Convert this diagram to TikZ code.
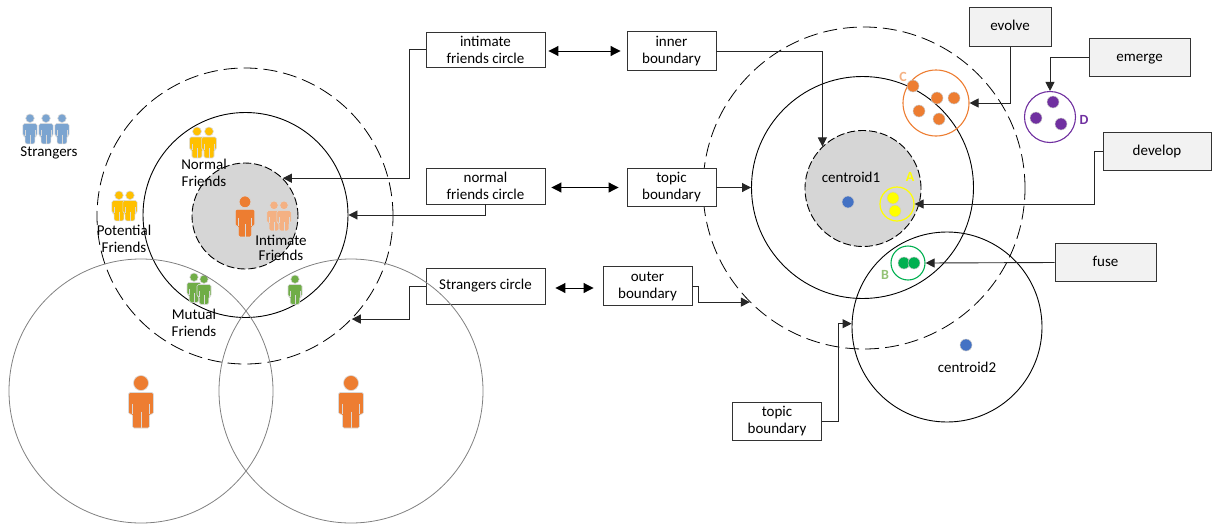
\documentclass[tikz,border=0pt]{standalone}
\usepackage{fontspec}
\setmainfont{Carlito}
\usetikzlibrary{arrows.meta}
\definecolor{strangerblue}{HTML}{7BA4D0}
\definecolor{friendyellow}{HTML}{FFC000}
\definecolor{personorange}{HTML}{ED7D31}
\definecolor{paleorange}{HTML}{F4B183}
\definecolor{mutualgreen}{HTML}{70AD47}
\definecolor{greyfill}{HTML}{D6D6D6}
\definecolor{tagfill}{HTML}{F2F2F2}
\definecolor{clusterpurple}{HTML}{7030A0}
\definecolor{clustergreen}{HTML}{00B050}
\definecolor{clusteryellow}{HTML}{FFFF00}
\definecolor{centroidblue}{HTML}{4472C4}

\tikzset{
  ring/.style={circle,draw,inner sep=0,minimum size=#1},
  longdash/.style={dash pattern=on 14 off 6},
  shortdash/.style={dash pattern=on 8 off 3},
  dot/.style={circle,fill=#1,draw=black!20,line width=.5,inner sep=0,minimum size=12},
  label/.style={align=center,font=\fontsize{15}{17}\selectfont,inner sep=0},
  mark letter/.style={font=\fontsize{14}{16}\selectfont\bfseries,text=#1,inner sep=0},
  box/.style={draw=black!80,fill=white,line width=.9,inner sep=0,align=center,font=\fontsize{15}{17}\selectfont},
  tag/.style={box,fill=tagfill,minimum width=#1,minimum height=38.5,execute at begin node={\vphantom{Ag}}},
  link/.style={draw=black!85,line width=.9,-{Triangle[length=9,width=9]}},
  twoway/.style={line width=1,{Triangle[length=10,width=10]}-{Triangle[length=10,width=10]}},
  pics/person/.style={code={
    \fill[#1,draw=black!15,line width=.6,rounded corners=1.5] (-12.5,38.5) -- (-12.5,17) -- (12.5,17) -- (12.5,38.5) -- (8.5,38.5) -- (8.5,52.5) -- (-8.5,52.5) -- (-8.5,38.5) -- cycle;
    \fill[#1,draw=black!15,line width=.6] (0,7.5) circle (7.5);
    \draw[black!15,line width=.4] (0,36) -- (0,52.5) (-8.5,28) -- (-8.5,38.5) (8.5,28) -- (8.5,38.5);
  }}
}

\begin{document}
\begin{tikzpicture}[x=1pt,y=-1pt]
\useasboundingbox (0,0) rectangle (1215,525);

\node[ring=296,longdash,line width=.8] (friendouter) at (245,216) {};
\node[ring=205,line width=.9] (friendmid) at (245.5,215) {};
\node[ring=106,shortdash,line width=.9,fill=greyfill] (friendinner) at (245,216) {};

\node[ring=322,longdash,line width=.8] (topicouter) at (864,188) {};
\node[ring=222,line width=.9] (topicmid) at (862.5,187.5) {};
\node[ring=116,shortdash,line width=.9,fill=greyfill] (topicinner) at (863,188.5) {};
\node[ring=190,line width=.9] (secondtopic) at (947,327) {};

\node[ring=34,draw=clusteryellow,line width=1.2] (clusterA) at (897,204) {};
\node[ring=34,draw=clustergreen,line width=1.1] (clusterB) at (908,263) {};
\node[ring=66,draw=personorange,line width=1.1] (clusterC) at (936,103) {};
\node[ring=51,draw=clusterpurple,line width=1.1] (clusterD) at (1050,117) {};

\foreach \x/\y in {893/198,895/211} \node[dot=clusteryellow] at (\x,\y) {};
\foreach \x/\y in {904/263,914/263} \node[dot=clustergreen] at (\x,\y) {};
\foreach \x/\y in {913/86,937/98,954/98,919/111,939/119} \node[dot=personorange] at (\x,\y) {};
\foreach \x/\y in {1053/102,1036/118,1061/124} \node[dot=clusterpurple] at (\x,\y) {};
\node[dot=centroidblue] (centroidA) at (848,202) {};
\node[dot=centroidblue] (centroidB) at (966,345) {};

\node[label] at (851,177) {centroid1};
\node[label] at (967,367) {centroid2};
\node[mark letter=clusteryellow] at (910,177) {A};
\node[mark letter=mutualgreen!75] at (885,275) {B};
\node[mark letter=paleorange] at (903,77) {C};
\node[mark letter=clusterpurple] at (1084,120) {D};

\foreach \x in {30,46,62} \pic[scale=.57] at (\x,114) {person=strangerblue};
\foreach \x in {197,209} \pic[scale=.59] at (\x,127) {person=friendyellow};
\foreach \x in {119,130} \pic[scale=.57] at (\x,191) {person=friendyellow};
\pic[scale=.78] at (245,196) {person=personorange};
\foreach \x in {274,284} \pic[scale=.57] at (\x,201) {person=paleorange};
\foreach \x/\y in {194/273,204/275,295/275} \pic[scale=.56] at (\x,\y) {person=mutualgreen};
\foreach \x in {141,351} \pic at (\x,375.5) {person=personorange};

\node[label] at (49,153) {Strangers};
\node[label] at (204,173) {Normal\\Friends};
\node[label] at (124,239) {Potential\\Friends};
\node[label,font=\fontsize{15}{15}\selectfont] at (281,248) {Intimate\\Friends};
\node[label] at (194,322.5) {Mutual\\Friends};

\node[box,minimum width=119,minimum height=35] (intimatebox) at (485.5,49.5) {intimate\\friends circle};
\node[box,minimum width=119,minimum height=36] (normalbox) at (485.5,186) {normal\\friends circle};
\node[box,minimum width=119,minimum height=36,execute at begin node={\vphantom{Ag}}] (strangersbox) at (485.5,286) {Strangers circle};
\node[box,minimum width=89,minimum height=38.5] (innerbox) at (671.5,51) {inner\\boundary};
\node[box,minimum width=89,minimum height=38.5] (topicbox) at (671.5,187.5) {topic\\boundary};
\node[box,minimum width=89,minimum height=38.5] (outerbox) at (647.5,286) {outer\\boundary};
\node[box,minimum width=89,minimum height=38.5] (secondbox) at (777,421.5) {topic\\boundary};
\node[tag=82] (evolvebox) at (1010,27) {evolve};
\node[tag=101] (emergebox) at (1139.5,57.5) {emerge};
\node[tag=108] (developbox) at (1157,151.5) {develop};
\node[tag=101] (fusebox) at (1105.5,262.5) {fuse};

\node[ring=264,draw=black!50,line width=.8] (contactleft) at (141,391) {};
\node[ring=264,draw=black!50,line width=.8] (contactright) at (351,391) {};

\draw[link] (intimatebox.west) -- ++(-16,0) |- (friendinner.45);
\draw[link] (normalbox.south) |- (friendmid.east);
\draw[link] (strangersbox.west) -- ++(-16,0) |- (friendouter.-44);
\draw[link] (innerbox.east) -| (topicinner.134);
\draw[link] (topicbox.east) -- (topicmid.west);
\draw[link] (outerbox.east) -- ++(6,0) |- (topicouter.-135.5);
\draw[link] (secondbox.east) -- ++(16,0) |- (secondtopic.178.8);
\draw[link] (evolvebox.south) |- (clusterC.east);
\draw[link] (emergebox.west) -| (clusterD.north);
\draw[link] (developbox.west) -- ++(-8,0) |- (clusterA.east);
\draw[link] (fusebox.west) -- (clusterB.east);

\draw[twoway,shorten <=3,shorten >=6] (intimatebox.east |- innerbox.west) -- (innerbox.west);
\draw[twoway,shorten <=6,shorten >=8] (normalbox.east |- topicbox.west) -- (topicbox.west);
\draw[twoway,shorten <=10,shorten >=9] ([yshift=-2]strangersbox.east) -- ([yshift=-2]outerbox.west);
\end{tikzpicture}
\end{document}
